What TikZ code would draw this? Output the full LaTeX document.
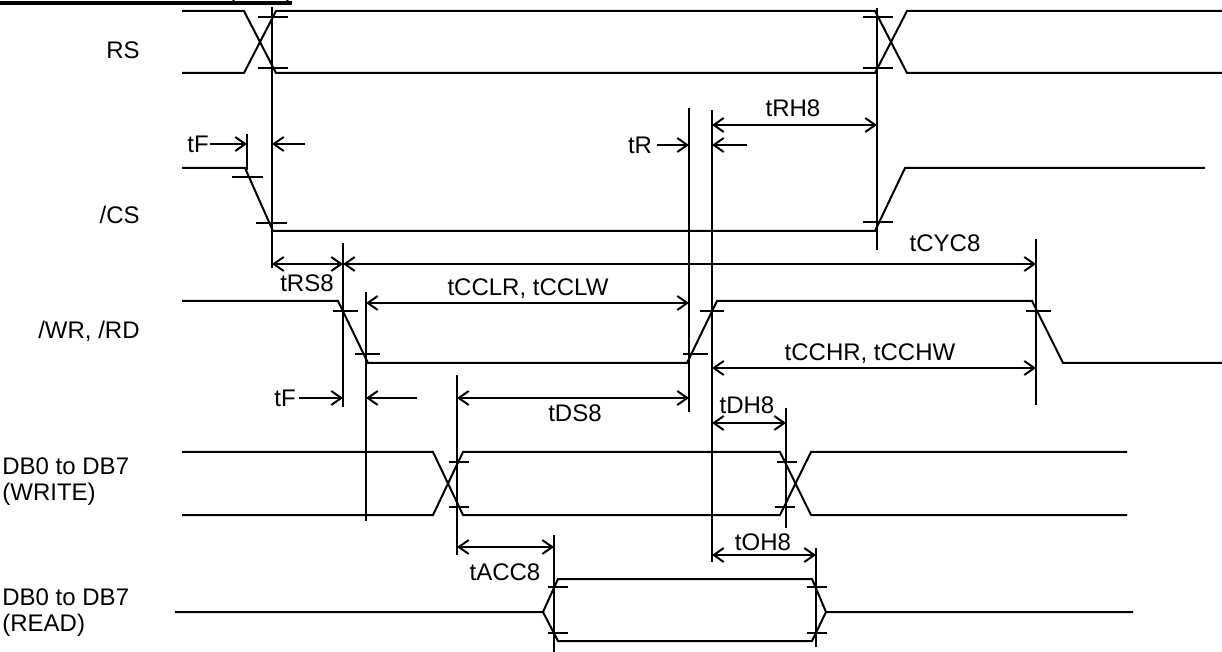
\documentclass[tikz,border=0pt]{standalone}
\usepackage{fontspec}
\setmainfont{Liberation Sans}
\usetikzlibrary{arrows.meta}
\begin{document}
\begin{tikzpicture}[x=0.5pt,y=-0.5pt,
  sig/.style={line width=1pt, line join=miter},
  ln/.style={line width=1pt},
  dimarr/.style={line width=1pt,{Straight Barb[length=5pt,width=7pt]}-{Straight Barb[length=5pt,width=7pt]}},
  onearr/.style={line width=1pt,-{Straight Barb[length=5pt,width=7pt]}},
  lbl/.style={font=\fontsize{12}{14}\selectfont, inner sep=0pt, text height=8.6pt, text depth=0pt},
]
\useasboundingbox (0,0) rectangle (1222,652);

% header remnant
\draw[line width=2pt] (0,3) -- (292,3);
\draw[line width=0.9pt] (233,0) .. controls (234,3) and (236,4) .. (239,4);
\draw[line width=0.9pt] (288,0) .. controls (287,3) and (285,4) .. (282,4);

% signal labels
\node[lbl, anchor=east] (lrs) at (140,50) {RS};
\node[lbl, anchor=east] (lcs) at (140,215) {/CS};
\node[lbl, anchor=east] (lwr) at (140,330) {/WR, /RD};
\node[lbl, anchor=west] (ldbw1) at (2,466) {DB0 to DB7};
\node[lbl, anchor=west] (ldbw2) at (2,492) {(WRITE)};
\node[lbl, anchor=west] (ldbr1) at (2,597) {DB0 to DB7};
\node[lbl, anchor=west] (ldbr2) at (2,623) {(READ)};

% RS
\draw[sig] (182,11) -- (244,11) -- (276,73) -- (875,73) -- (907,11) -- (1222,11);
\draw[sig] (182,73) -- (244,73) -- (276,11) -- (875,11) -- (907,73) -- (1222,73);
\draw[ln] (258,17) -- (288,17) (258,68) -- (288,68);
\draw[ln] (863,17) -- (893,17) (863,68) -- (893,68);

% /CS
\draw[sig] (182,168) -- (245,168) -- (273,231) -- (875,231) -- (905,168) -- (1205,168);
\draw[ln] (232,177) -- (263,177) (256,223) -- (287,223);
\draw[ln] (863,222) -- (893,222);

% /WR, /RD
\draw[sig] (182,301) -- (338,301) -- (368,363) -- (687,363) -- (717,301) -- (1032,301) -- (1063,363) -- (1222,363);
\draw[ln] (333,311) -- (358,311) (355,354) -- (380,354);
\draw[ln] (683,354) -- (708,354) (700,311) -- (724,311);
\draw[ln] (1026,311) -- (1051,311);

% DB write
\draw[sig] (182,452) -- (433,452) -- (463,515) -- (780,515) -- (811,452) -- (1127,452);
\draw[sig] (182,515) -- (433,515) -- (463,452) -- (780,452) -- (811,515) -- (1127,515);
\draw[ln] (449,462) -- (469,462) (449,507) -- (469,507);
\draw[ln] (777,462) -- (797,462) (775,507) -- (795,507);

% DB read
\draw[sig] (175,612) -- (543,612) -- (558,579) -- (812,579) -- (826,612) -- (1133,612);
\draw[sig] (543,612) -- (558,641) -- (812,641) -- (826,612);
\draw[ln] (548,587) -- (568,587) (548,633) -- (568,633);
\draw[ln] (807,587) -- (827,587) (807,633) -- (827,633);

% vertical reference lines
\draw[ln] (272,7) -- (272,268);
\draw[ln] (247,134) -- (247,170);
\draw[ln] (877,8) -- (877,250);
\draw[ln] (689,108) -- (689,412);
\draw[ln] (712,110) -- (712,562);
\draw[ln] (343,243) -- (343,407);
\draw[ln] (366,292) -- (366,521);
\draw[ln] (457,375) -- (457,555);
\draw[ln] (554,535) -- (554,652);
\draw[ln] (786,408) -- (786,528);
\draw[ln] (816,548) -- (816,647);
\draw[ln] (1036,239) -- (1036,405);

% timing arrows
\node[lbl] (tf1) at (198,144) {tF};
\draw[onearr] (210,144) -- (247,144);
\draw[onearr] (305,144) -- (272,144);

\node[lbl] (tr) at (640,145) {tR};
\draw[onearr] (657,145) -- (689,145);
\draw[onearr] (747,145) -- (712,145);

\draw[dimarr] (712,125) -- (877,125);
\node[lbl] (trh) at (793,108) {tRH8};

\draw[dimarr] (272,264) -- (343,264);
\node[lbl] (trs) at (307,283) {tRS8};
\draw[dimarr] (343,264) -- (1036,264);
\node[lbl] (tcyc) at (945,243) {tCYC8};

\draw[dimarr] (366,303) -- (689,303);
\node[lbl] (tccl) at (528,287) {tCCLR, tCCLW};

\draw[dimarr] (712,368) -- (1036,368);
\node[lbl] (tcch) at (870,352) {tCCHR, tCCHW};

\node[lbl] (tf2) at (285,398) {tF};
\draw[onearr] (299,398) -- (343,398);
\draw[onearr] (417,398) -- (366,398);

\draw[dimarr] (457,398) -- (689,398);
\node[lbl] (tds) at (575,413) {tDS8};

\draw[dimarr] (712,423) -- (786,423);
\node[lbl] (tdh) at (747,405) {tDH8};

\draw[dimarr] (457,547) -- (554,547);
\node[lbl] (tacc) at (505,572) {tACC8};

\draw[dimarr] (712,555) -- (816,555);
\node[lbl] (toh) at (763,542) {tOH8};
\end{tikzpicture}
\end{document}
